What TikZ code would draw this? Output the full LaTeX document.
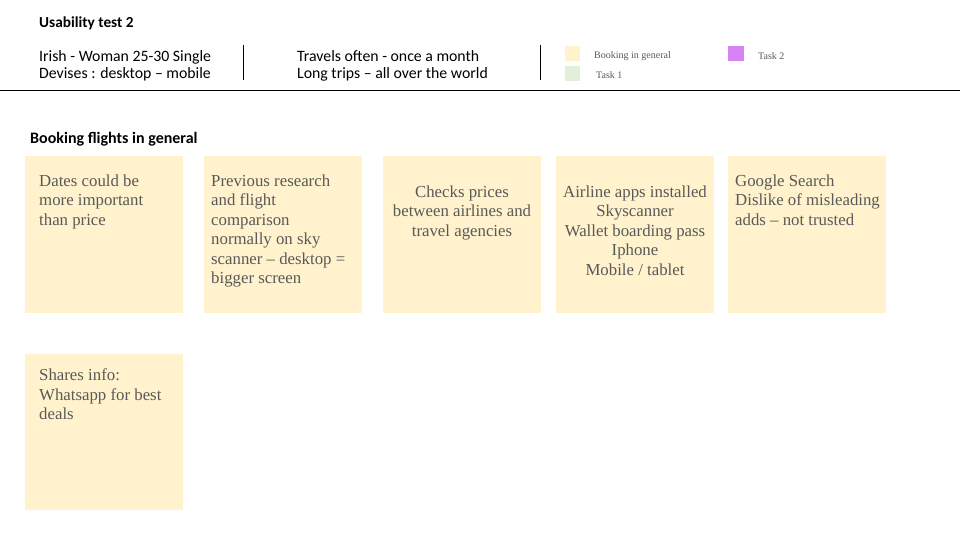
\documentclass[tikz,border=0pt]{standalone}
\usepackage{fontspec}
\setmainfont{Liberation Serif}
\newfontfamily\hdfont[Ligatures=TeX]{Carlito}
\definecolor{sticky}{HTML}{FFF2CC}
\definecolor{taskone}{HTML}{E2F0D9}
\definecolor{tasktwo}{HTML}{D883F5}
\definecolor{notetext}{HTML}{595959}
\begin{document}
\begin{tikzpicture}[x=1pt,y=-1pt,
  note/.style={fill=sticky, draw=none, minimum width=158pt, minimum height=157pt, inner sep=0pt, anchor=north west},
  notetxt/.style={text=notetext, inner sep=0pt, font=\fontsize{16.8}{19.5}\selectfont},
  hd/.style={inner sep=0pt, anchor=north west, align=left, font=\hdfont\fontsize{15.8}{17}\selectfont},
  legsq/.style={draw=none, minimum width=15pt, minimum height=15pt, inner sep=0pt, anchor=north west},
  legtxt/.style={inner sep=0pt, anchor=west, text=notetext, font=\fontsize{10}{11}\selectfont},
  sep/.style={line width=1pt}
]
\useasboundingbox (0,0) rectangle (960,540);
% header
\node[inner sep=0pt, anchor=base west, font=\hdfont\bfseries\fontsize{15.3}{17}\selectfont] (title) at (39,27.5) {Usability test 2};
\node[hd] (info1) at (39,50.5) {Irish - Woman 25-30 Single\\Devises : desktop – mobile};
\node[hd] (info2) at (297,50.5) {Travels often - once a month\\Long trips – all over the world};
\coordinate (v1t) at (243,45); \coordinate (v1b) at (243,80);
\coordinate (v2t) at (540,45); \coordinate (v2b) at (540,80);
\draw[sep] (v1t) -- (v1b);
\draw[sep] (v2t) -- (v2b);
\coordinate (hl) at (0,91); \coordinate (hr) at (960,91);
\draw[sep] (hl) -- (hr);
% legend
\node[legsq, fill=sticky] (lg1) at (565,46) {};
\node[legtxt] (lg1t) at (594,56) {Booking in general};
\node[legsq, fill=taskone] (lg2) at (565,66) {};
\node[legtxt] (lg2t) at (596,75) {Task 1};
\node[legsq, fill=tasktwo, minimum width=16pt] (lg3) at (728,46) {};
\node[legtxt] (lg3t) at (758,56) {Task 2};
% section title
\node[inner sep=0pt, anchor=base west, font=\hdfont\bfseries\fontsize{16}{17}\selectfont] (sec) at (30,143.5) {Booking flights in general};
% notes
\node[note] (n1) at (25,156) {};
\node[note] (n2) at (204,156) {};
\node[note] (n3) at (383,156) {};
\node[note] (n4) at (556,156) {};
\node[note] (n5) at (728,156) {};
\node[note, minimum height=156pt] (n6) at (25,354) {};
\node[notetxt, anchor=north west, align=left] (t1) at (39,174.5) {Dates could be\\more important\\than price};
\node[notetxt, anchor=north west, align=left] (t2) at (211,174.5) {Previous research\\and flight\\comparison\\normally on sky\\scanner – desktop =\\bigger screen};
\node[notetxt, anchor=north, align=center] (t3) at (462,185.5) {Checks prices\\between airlines and\\travel agencies};
\node[notetxt, anchor=north, align=center] (t4) at (635,185.5) {Airline apps installed\\Skyscanner\\Wallet boarding pass\\Iphone\\Mobile / tablet};
\node[notetxt, anchor=north west, align=left] (t5) at (735,174.5) {Google Search\\Dislike of misleading\\adds – not trusted};
\node[notetxt, anchor=north west, align=left] (t6) at (39,368.5) {Shares info:\\Whatsapp for best\\deals};
\end{tikzpicture}
\end{document}
